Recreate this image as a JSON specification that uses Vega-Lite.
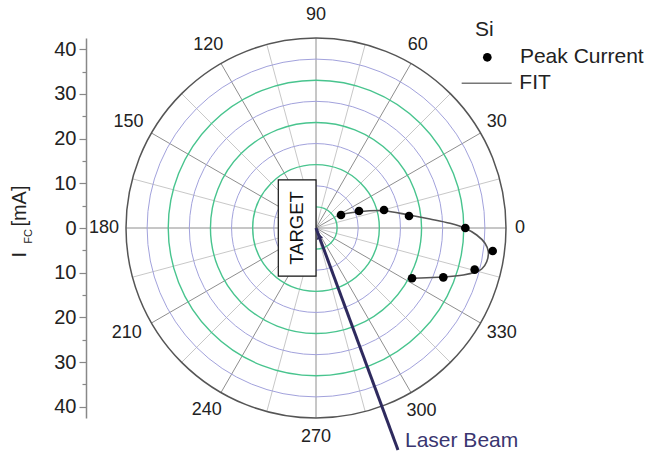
{
  "$schema": "https://vega.github.io/schema/vega-lite/v6.json",
  "width": 380,
  "height": 380,
  "autosize": {"type": "none"},
  "padding": {"left": 126, "top": 38, "right": 164, "bottom": 36},
  "background": "white",
  "config": {"view": {"stroke": null}, "font": "Liberation Sans", "text": {"font": "Liberation Sans"}},
  "resolve": {"scale": {"y": "independent"}, "axis": {"y": "independent"}},
  "layer": [
    {
      "data": {"values": [{"v": 0}]},
      "mark": {"type": "rule", "opacity": 0},
      "encoding": {
        "y": {
          "field": "v",
          "type": "quantitative",
          "scale": {"domain": [-42.5, 42.5], "nice": false, "zero": false},
          "axis": {
            "orient": "left",
            "offset": 40,
            "title": null,
            "grid": false,
            "values": [-40, -35, -30, -25, -20, -15, -10, -5, 0, 5, 10, 15, 20, 25, 30, 35, 40],
            "labelExpr": "datum.value % 10 === 0 ? format(abs(datum.value), 'd') : ''",
            "tickSize": {"condition": {"test": "datum.value % 10 === 0", "value": 7}, "value": 4},
            "domainColor": "#888888",
            "tickColor": "#888888",
            "domainWidth": 1.5,
            "tickWidth": 1.2,
            "labelFont": "Liberation Sans",
            "labelFontSize": 20,
            "labelColor": "#222222",
            "labelPadding": 3
          }
        }
      }
    },
    {
      "encoding": {
        "x": {"field": "x", "type": "quantitative", "scale": {"domain": [-45, 45], "nice": false, "zero": false}, "axis": null},
        "y": {"field": "y", "type": "quantitative", "scale": {"domain": [-45, 45], "nice": false, "zero": false}, "axis": null}
      },
      "layer": [
        {
          "data": {"name": "radials", "values": [
            {"x": 0, "y": 0, "x2": 45, "y2": 0, "kind": "major"},
            {"x": 0, "y": 0, "x2": 43.467, "y2": 11.647, "kind": "minor"},
            {"x": 0, "y": 0, "x2": 38.971, "y2": 22.5, "kind": "major"},
            {"x": 0, "y": 0, "x2": 31.82, "y2": 31.82, "kind": "minor"},
            {"x": 0, "y": 0, "x2": 22.5, "y2": 38.971, "kind": "major"},
            {"x": 0, "y": 0, "x2": 11.647, "y2": 43.467, "kind": "minor"},
            {"x": 0, "y": 0, "x2": 0, "y2": 45, "kind": "major"},
            {"x": 0, "y": 0, "x2": -11.647, "y2": 43.467, "kind": "minor"},
            {"x": 0, "y": 0, "x2": -22.5, "y2": 38.971, "kind": "major"},
            {"x": 0, "y": 0, "x2": -31.82, "y2": 31.82, "kind": "minor"},
            {"x": 0, "y": 0, "x2": -38.971, "y2": 22.5, "kind": "major"},
            {"x": 0, "y": 0, "x2": -43.467, "y2": 11.647, "kind": "minor"},
            {"x": 0, "y": 0, "x2": -45, "y2": 0, "kind": "major"},
            {"x": 0, "y": 0, "x2": -43.467, "y2": -11.647, "kind": "minor"},
            {"x": 0, "y": 0, "x2": -38.971, "y2": -22.5, "kind": "major"},
            {"x": 0, "y": 0, "x2": -31.82, "y2": -31.82, "kind": "minor"},
            {"x": 0, "y": 0, "x2": -22.5, "y2": -38.971, "kind": "major"},
            {"x": 0, "y": 0, "x2": -11.647, "y2": -43.467, "kind": "minor"},
            {"x": 0, "y": 0, "x2": 0, "y2": -45, "kind": "major"},
            {"x": 0, "y": 0, "x2": 11.647, "y2": -43.467, "kind": "minor"},
            {"x": 0, "y": 0, "x2": 22.5, "y2": -38.971, "kind": "major"},
            {"x": 0, "y": 0, "x2": 31.82, "y2": -31.82, "kind": "minor"},
            {"x": 0, "y": 0, "x2": 38.971, "y2": -22.5, "kind": "major"},
            {"x": 0, "y": 0, "x2": 43.467, "y2": -11.647, "kind": "minor"}
          ]},
          "transform": [{"filter": "datum.kind === 'minor'"}],
          "mark": {"type": "rule", "color": "#c8c8c8", "strokeWidth": 1},
          "encoding": {"x2": {"field": "x2"}, "y2": {"field": "y2"}}
        },
        {
          "data": {"name": "radials"},
          "transform": [{"filter": "datum.kind === 'major'"}],
          "mark": {"type": "rule", "color": "#8e8e8e", "strokeWidth": 1},
          "encoding": {"x2": {"field": "x2"}, "y2": {"field": "y2"}}
        },
        {
          "data": {"name": "rings", "values": [
            {"x": 0, "y": 0, "r": 5, "ring": "green"}, {"x": 0, "y": 0, "r": 10, "ring": "blue"},
            {"x": 0, "y": 0, "r": 15, "ring": "green"}, {"x": 0, "y": 0, "r": 20, "ring": "blue"},
            {"x": 0, "y": 0, "r": 25, "ring": "green"}, {"x": 0, "y": 0, "r": 30, "ring": "blue"},
            {"x": 0, "y": 0, "r": 35, "ring": "green"}, {"x": 0, "y": 0, "r": 40, "ring": "blue"},
            {"x": 0, "y": 0, "r": 45, "ring": "outer"}
          ]},
          "transform": [{"filter": "datum.ring === 'blue'"}],
          "mark": {"type": "arc", "filled": false, "color": "#a2a2dc", "strokeWidth": 1},
          "encoding": {
            "radius": {"field": "r", "type": "quantitative", "stack": null, "scale": {"domain": [0, 45], "range": [0, 190], "nice": false, "zero": true}}
          }
        },
        {
          "data": {"name": "rings"},
          "transform": [{"filter": "datum.ring === 'green'"}],
          "mark": {"type": "arc", "filled": false, "color": "#48c48e", "strokeWidth": 1.4},
          "encoding": {
            "radius": {"field": "r", "type": "quantitative", "stack": null, "scale": {"domain": [0, 45], "range": [0, 190], "nice": false, "zero": true}}
          }
        },
        {
          "data": {"name": "rings"},
          "transform": [{"filter": "datum.ring === 'outer'"}],
          "mark": {"type": "arc", "filled": false, "color": "#555555", "strokeWidth": 1.5},
          "encoding": {
            "radius": {"field": "r", "type": "quantitative", "stack": null, "scale": {"domain": [0, 45], "range": [0, 190], "nice": false, "zero": true}}
          }
        },
        {
          "data": {"values": [
            {"i": 1, "x": 5.92, "y": 3.24}, {"i": 2, "x": 10.02, "y": 3.86}, {"i": 3, "x": 15.94, "y": 4.1},
            {"i": 4, "x": 22.03, "y": 3.08}, {"i": 5, "x": 27.0, "y": 2.13}, {"i": 6, "x": 31.74, "y": 1.11},
            {"i": 7, "x": 35.29, "y": -0.07}, {"i": 8, "x": 38.06, "y": -1.66}, {"i": 9, "x": 40.03, "y": -3.62},
            {"i": 10, "x": 40.81, "y": -5.61}, {"i": 11, "x": 40.43, "y": -7.98}, {"i": 12, "x": 39.25, "y": -9.71},
            {"i": 13, "x": 37.66, "y": -10.49}, {"i": 14, "x": 34.89, "y": -11.13}, {"i": 15, "x": 30.15, "y": -11.61},
            {"i": 16, "x": 26.22, "y": -11.77}, {"i": 17, "x": 22.67, "y": -11.91}
          ]},
          "mark": {"type": "line", "interpolate": "catmull-rom", "color": "#555555", "strokeWidth": 1.6},
          "encoding": {"order": {"field": "i", "type": "quantitative"}}
        },
        {
          "data": {"values": [
            {"x": 5.92, "y": 3.08}, {"x": 10.18, "y": 4.03}, {"x": 16.11, "y": 4.26},
            {"x": 22.03, "y": 2.84}, {"x": 35.37, "y": 0.0}, {"x": 41.85, "y": -5.45},
            {"x": 37.58, "y": -9.87}, {"x": 30.15, "y": -11.68}, {"x": 22.74, "y": -11.91}
          ]},
          "mark": {"type": "point", "shape": "circle", "filled": true, "color": "#000000", "opacity": 1, "size": 75}
        },
        {
          "data": {"values": [{"x": -8.93, "x2": 0, "y": -11.4, "y2": 11.4}]},
          "mark": {"type": "rect", "fill": "white", "stroke": "#111111", "strokeWidth": 1.2},
          "encoding": {"x2": {"field": "x2"}, "y2": {"field": "y2"}}
        },
        {
          "data": {"values": [{"x": -4.5, "y": 0, "t": "TARGET"}]},
          "mark": {"type": "text", "angle": 270, "align": "center", "baseline": "middle", "fontSize": 18.5, "color": "#111111"},
          "encoding": {"text": {"field": "t"}}
        },
        {
          "data": {"values": [{"x": 0, "y": 0, "x2": 19.42, "y2": -52.58}]},
          "mark": {"type": "rule", "color": "#2e2a5e", "strokeWidth": 3},
          "encoding": {"x2": {"field": "x2"}, "y2": {"field": "y2"}}
        },
        {
          "data": {"values": [{"x": 0.7, "y": -1.9}]},
          "mark": {"type": "point", "shape": "triangle-up", "filled": true, "color": "#2e2a5e", "opacity": 1, "size": 45, "angle": 340}
        },
        {
          "data": {"values": [{"x": 21.08, "y": -50.45, "t": "Laser Beam"}]},
          "mark": {"type": "text", "align": "left", "baseline": "middle", "fontSize": 21, "color": "#3a3670"},
          "encoding": {"text": {"field": "t"}}
        },
        {
          "data": {"values": [
            {"x": 48.3, "y": 0, "t": "0"}, {"x": 42.8, "y": 25.2, "t": "30"}, {"x": 24.1, "y": 43.3, "t": "60"},
            {"x": 0, "y": 50.4, "t": "90"}, {"x": -25.5, "y": 43.3, "t": "120"}, {"x": -44.4, "y": 25.2, "t": "150"},
            {"x": -50.2, "y": 0, "t": "180"}, {"x": -44.8, "y": -24.9, "t": "210"}, {"x": -25.9, "y": -43.1, "t": "240"},
            {"x": 0, "y": -49.4, "t": "270"}, {"x": 25.0, "y": -43.3, "t": "300"}, {"x": 44.0, "y": -24.9, "t": "330"}
          ]},
          "mark": {"type": "text", "align": "center", "baseline": "middle", "fontSize": 18, "color": "#222222"},
          "encoding": {"text": {"field": "t"}}
        },
        {
          "data": {"values": [
            {"x": 37.66, "y": 46.9, "t": "Si"},
            {"x": 48.3, "y": 40.43, "t": "Peak Current"},
            {"x": 48.15, "y": 34.27, "t": "FIT"}
          ]},
          "mark": {"type": "text", "align": "left", "baseline": "middle", "fontSize": 21, "color": "#222222"},
          "encoding": {"text": {"field": "t"}}
        },
        {
          "data": {"values": [{"x": 40.57, "y": 40.43}]},
          "mark": {"type": "point", "shape": "circle", "filled": true, "color": "#000000", "opacity": 1, "size": 75}
        },
        {
          "data": {"values": [{"x": 34.5, "x2": 46.35, "y": 34.27}]},
          "mark": {"type": "rule", "color": "#777777", "strokeWidth": 1.6},
          "encoding": {"x2": {"field": "x2"}}
        },
        {
          "data": {"values": [{"x": -70.2, "y": -6.3, "t": "I"}, {"x": -70.1, "y": 5.2, "t": "[mA]"}]},
          "mark": {"type": "text", "angle": 270, "align": "center", "baseline": "middle", "fontSize": 20, "color": "#222222"},
          "encoding": {"text": {"field": "t"}}
        },
        {
          "data": {"values": [{"x": -67.9, "y": -2.0, "t": "FC"}]},
          "mark": {"type": "text", "angle": 270, "align": "center", "baseline": "middle", "fontSize": 11, "color": "#222222"},
          "encoding": {"text": {"field": "t"}}
        }
      ]
    }
  ]
}
